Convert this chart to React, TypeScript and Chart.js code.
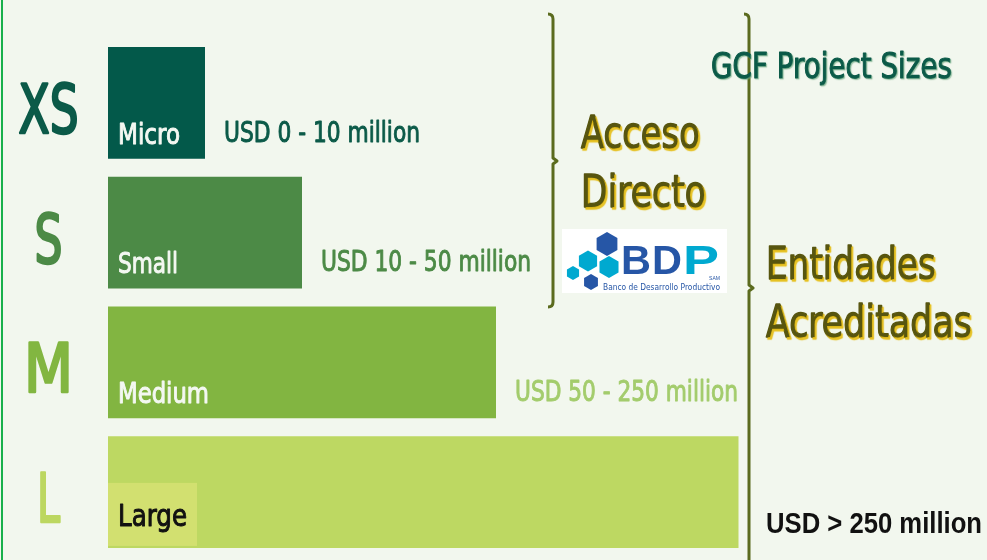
import React, { useEffect, useRef } from 'react';
import { Chart, registerables } from 'chart.js';

Chart.register(...registerables);

const categories = ['XS', 'S', 'M', 'L'];
const sizeNames = ['Micro', 'Small', 'Medium', 'Large'];
const barValues = [10, 20, 40, 65];
const rangeLabels = ['USD 0 - 10 million', 'USD 10 - 50 million', 'USD 50 - 250 million', 'USD > 250 million'];
const chartTitle = 'GCF Project Sizes';
const directLines = ['Acceso', 'Directo'];
const accreditedLines = ['Entidades', 'Acreditadas'];
const logoMain = ['B', 'D', 'P'];
const logoSmall = 'SAM';
const logoName = 'Banco de Desarrollo Productivo';

const FONT = "'DejaVu Sans Condensed', 'DejaVu Sans', sans-serif";
const barColors = ['#03594a', '#4c8a46', '#82b541', '#bdd862'];
const catColors = ['#0b5a48', '#4c8a46', '#82b641', '#bcd760'];
const rangeColors = ['#0b5a48', '#4c8a46', '#a3cc6c', '#111111'];
const innerColors = ['#f4f8f2', '#f4f8f2', '#f4f8f2', '#111111'];
// layout-only widths used to condense the text like the original typeface
const catWidths = [60, 28, 49, 23];
const innerWidths = [62, 60, 91, 69];
const rangeWidths = [196, 210, 223, 216];
const BG = '#f2f7ee';
const BRACKET = '#5b6b1e';
const OLIVE = '#57550f';

function txt(
  ctx: CanvasRenderingContext2D,
  s: string,
  x: number,
  y: number,
  size: number,
  color: string,
  width: number,
  align: CanvasTextAlign = 'left',
  weight = 'normal',
  family = FONT,
  stroke = size * 0.032
) {
  ctx.save();
  ctx.font = `${weight} ${size}px ${family}`;
  ctx.textAlign = align;
  ctx.textBaseline = 'alphabetic';
  const w = ctx.measureText(s).width;
  const sx = width > 0 ? width / w : 1;
  ctx.translate(x, y);
  ctx.scale(sx, 1);
  ctx.fillStyle = color;
  if (stroke > 0) {
    ctx.strokeStyle = color;
    ctx.lineWidth = stroke;
    ctx.lineJoin = 'round';
    ctx.strokeText(s, 0, 0);
  }
  ctx.fillText(s, 0, 0);
  ctx.restore();
}

function hex(ctx: CanvasRenderingContext2D, cx: number, cy: number, r: number, color: string) {
  ctx.beginPath();
  for (let i = 0; i < 6; i++) {
    const a = (Math.PI / 3) * i + Math.PI / 6;
    const px = cx + r * Math.cos(a);
    const py = cy + r * Math.sin(a);
    if (i === 0) ctx.moveTo(px, py); else ctx.lineTo(px, py);
  }
  ctx.closePath();
  ctx.fillStyle = color;
  ctx.fill();
}

function bracket(ctx: CanvasRenderingContext2D, x: number, top: number, bottom: number, mid: number) {
  ctx.save();
  ctx.strokeStyle = BRACKET;
  ctx.lineWidth = 3;
  ctx.lineJoin = 'round';
  ctx.beginPath();
  ctx.moveTo(x - 5, top);
  ctx.quadraticCurveTo(x, top, x, top + 5);
  ctx.lineTo(x, mid - 3);
  ctx.lineTo(x + 4, mid);
  ctx.lineTo(x, mid + 3);
  ctx.lineTo(x, bottom - 5);
  ctx.quadraticCurveTo(x, bottom, x - 5, bottom);
  ctx.stroke();
  ctx.restore();
}

const decorPlugin = {
  id: 'decor',
  beforeDraw(chart: any) {
    const ctx = chart.ctx as CanvasRenderingContext2D;
    ctx.save();
    ctx.fillStyle = BG;
    ctx.fillRect(0, 0, chart.width, chart.height);
    ctx.fillStyle = '#19b04b';
    ctx.fillRect(1, 0, 2, chart.height);
    ctx.restore();
  },
  afterDatasetsDraw(chart: any) {
    const ctx = chart.ctx as CanvasRenderingContext2D;
    const meta = chart.getDatasetMeta(0);
    const yScale = chart.scales.y;
    categories.forEach((c, i) => {
      const yp = yScale.getPixelForValue(i);
      txt(ctx, c, 48.5, yp + 30, 68, catColors[i], catWidths[i], 'center', 'normal', FONT, 2.6);
    });
    meta.data.forEach((el: any, i: number) => {
      const left = el.base;
      const right = el.x;
      const bottom = el.y + el.height / 2;
      if (i === 3) {
        ctx.fillStyle = '#d2e070';
        ctx.fillRect(left, bottom - 65, 89, 63);
        txt(ctx, sizeNames[i], left + 10, bottom - 22, 30, innerColors[i], innerWidths[i]);
        txt(ctx, rangeLabels[i], 766, bottom - 15, 30, rangeColors[i], rangeWidths[i], 'left', 'bold', "'Liberation Sans', sans-serif", 0);
      } else {
        txt(ctx, sizeNames[i], left + 10, bottom - 15, 29, innerColors[i], innerWidths[i]);
        txt(ctx, rangeLabels[i], right + 19, bottom - 17, 29, rangeColors[i], rangeWidths[i]);
      }
    });
  },
  afterDraw(chart: any) {
    const ctx = chart.ctx as CanvasRenderingContext2D;
    ctx.save();
    bracket(ctx, 553, 14, 307, 161);
    bracket(ctx, 749, 14, 566, 288);

    ctx.shadowColor = 'rgba(110,170,130,0.55)';
    ctx.shadowOffsetX = 1;
    ctx.shadowOffsetY = 1;
    ctx.shadowBlur = 1;
    txt(ctx, chartTitle, 711, 78, 36, '#0b5a48', 241);

    ctx.shadowColor = 'rgba(230,190,20,0.9)';
    ctx.shadowOffsetX = 1.5;
    ctx.shadowOffsetY = 1.5;
    txt(ctx, directLines[0], 581, 148, 44, OLIVE, 119);
    txt(ctx, directLines[1], 581, 207, 44, OLIVE, 125);
    txt(ctx, accreditedLines[0], 766, 279, 44, OLIVE, 170);
    txt(ctx, accreditedLines[1], 766, 337, 44, OLIVE, 206);
    ctx.shadowColor = 'transparent';
    ctx.shadowOffsetX = 0;
    ctx.shadowOffsetY = 0;
    ctx.shadowBlur = 0;

    // logo
    ctx.fillStyle = '#ffffff';
    ctx.fillRect(562, 229, 165, 64);
    const dark = '#2656a6';
    const cyan = '#00a9d0';
    hex(ctx, 607, 244, 12, dark);
    hex(ctx, 588, 261, 10.5, cyan);
    hex(ctx, 609, 267, 11, cyan);
    hex(ctx, 573, 273, 7, cyan);
    hex(ctx, 591, 282, 8, dark);
    txt(ctx, logoMain[0], 621, 274, 40, dark, 30, 'left', 'bold', "'Liberation Sans', sans-serif", 0);
    txt(ctx, logoMain[1], 652, 274, 40, dark, 30, 'left', 'bold', "'Liberation Sans', sans-serif", 0);
    txt(ctx, logoMain[2], 683, 274, 40, cyan, 36, 'left', 'bold', "'Liberation Sans', sans-serif", 0);
    txt(ctx, logoSmall, 709, 280, 6, dark, 11, 'left', 'normal', "'Liberation Sans', sans-serif", 0);
    txt(ctx, logoName, 603, 290, 9, dark, 117, 'left', 'normal', FONT, 0);
    ctx.restore();
  },
};

export default function App() {
  const ref = useRef<HTMLCanvasElement | null>(null);
  useEffect(() => {
    if (!ref.current) return;
    const chart = new Chart(ref.current, {
      type: 'bar',
      data: {
        labels: categories,
        datasets: [
          {
            data: barValues,
            backgroundColor: barColors,
            borderWidth: 0,
            barPercentage: 0.86,
            categoryPercentage: 1,
          },
        ],
      },
      options: {
        indexAxis: 'y',
        animation: false,
        responsive: false,
        devicePixelRatio: 1,
        layout: { padding: { left: 0, right: 6, top: 38, bottom: 3 } },
        plugins: {
          legend: { display: false },
          tooltip: { enabled: false },
          title: { display: false },
        },
        scales: {
          x: { display: false, min: 0, max: 90 },
          y: {
            grid: { display: false },
            border: { display: false },
            ticks: { display: false },
            afterFit: (scale: any) => {
              scale.width = 108;
              scale.paddingTop = 0;
              scale.paddingBottom = 0;
            },
          },
        },
      },
      plugins: [decorPlugin],
    } as any);
    return () => chart.destroy();
  }, []);
  return (
    <div style={{ position: 'fixed', left: 0, top: 0, width: 987, height: 560 }}>
      <canvas ref={ref} width={987} height={560} style={{ width: 987, height: 560, display: 'block' }} />
    </div>
  );
}
